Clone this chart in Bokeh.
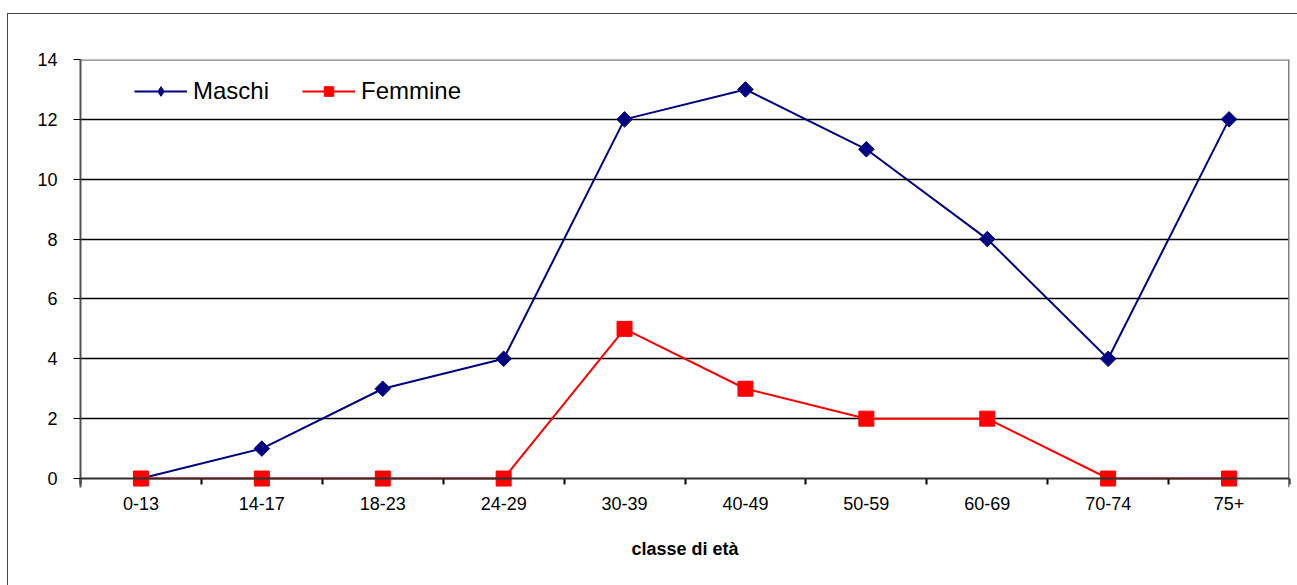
import math
from bokeh.plotting import figure
from bokeh.models import FixedTicker, Range1d, Legend, LegendItem, Span
from bokeh.embed import file_html
from bokeh.resources import INLINE

categories = ["0-13", "14-17", "18-23", "24-29", "30-39", "40-49", "50-59", "60-69", "70-74", "75+"]
maschi = [0, 1, 3, 4, 12, 13, 11, 8, 4, 12]
femmine = [0, 0, 0, 0, 5, 3, 2, 2, 0, 0]
y_ticks = [0, 2, 4, 6, 8, 10, 12, 14]

xs = [i + 0.5 for i in range(len(categories))]

FONT = "Liberation Sans"

p = figure(width=1290, height=572, output_backend="svg", toolbar_location=None,
           x_range=Range1d(0, len(categories)), y_range=Range1d(-0.3, 14),
           min_border_left=72, min_border_top=45, min_border_right=9, min_border_bottom=99,
           styles={"border-top": "1px solid #444", "border-left": "1px solid #444",
                   "margin-top": "13px", "margin-left": "7px"})

p.background_fill_color = "white"
p.border_fill_color = "white"
p.outline_line_color = None

# grid
p.xgrid.visible = False
p.ygrid.ticker = FixedTicker(ticks=y_ticks[1:-1])
p.ygrid.grid_line_color = "black"
p.ygrid.grid_line_width = 1.5

# plot-area border (top and right) and category axis line at zero
p.add_layout(Span(location=14, dimension="width", line_color="#808080", line_width=2.5))
p.add_layout(Span(location=len(categories), dimension="height", line_color="#808080", line_width=3))
p.add_layout(Span(location=0, dimension="width", line_color="#303030", line_width=2))

# x axis (sits at the frame bottom, just below zero)
p.xaxis.ticker = FixedTicker(ticks=xs, minor_ticks=list(range(len(categories) + 1)))
p.xaxis.major_label_overrides = {x: c for x, c in zip(xs, categories)}
p.xaxis.major_tick_out = 0
p.xaxis.major_tick_in = 0
p.xaxis.minor_tick_out = -3
p.xaxis.minor_tick_in = 9
p.xaxis.minor_tick_line_color = "black"
p.xaxis.minor_tick_line_width = 2
p.xaxis.axis_line_color = None
p.xaxis.major_label_text_font = FONT
p.xaxis.major_label_text_font_size = "18px"
p.xaxis.major_label_text_color = "black"
p.xaxis.major_label_standoff = 9
p.xaxis.axis_label = "classe di età"
p.xaxis.axis_label_text_font = FONT
p.xaxis.axis_label_text_font_size = "18px"
p.xaxis.axis_label_text_font_style = "bold"
p.xaxis.axis_label_text_color = "black"
p.xaxis.axis_label_standoff = 26

# y axis
p.yaxis.ticker = FixedTicker(ticks=y_ticks)
p.yaxis.major_tick_out = 7
p.yaxis.major_tick_in = 0
p.yaxis.major_tick_line_color = "black"
p.yaxis.minor_tick_line_color = None
p.yaxis.axis_line_color = "#505050"
p.yaxis.axis_line_width = 2
p.yaxis.major_label_text_font = FONT
p.yaxis.major_label_text_font_size = "18px"
p.yaxis.major_label_text_color = "black"
p.yaxis.major_label_standoff = 16

# series
lm = p.line(xs, maschi, line_color="#000080", line_width=2)
sm = p.scatter(xs, maschi, marker="square", angle=math.pi / 4, size=11,
               fill_color="#000080", line_color="#000080")
lf = p.line(xs, femmine, line_color="#FF0000", line_width=2)
sf = p.scatter(xs, femmine, marker="square", size=15, fill_color="#FF0000", line_color="#FF0000")

# legend-only diamond glyph, placed outside the visible range
legend_diamond = p.scatter(x=[-100], y=[-100], marker="diamond", size=15,
                           fill_color="#000080", line_color="#000080")

legend = Legend(items=[LegendItem(label="Maschi", renderers=[lm, legend_diamond]),
                       LegendItem(label="Femmine", renderers=[lf, sf])],
                orientation="horizontal", location=(54, 382))
legend.border_line_color = None
legend.background_fill_alpha = 0
legend.label_text_font = FONT
legend.label_text_font_size = "24px"
legend.label_text_color = "black"
legend.glyph_width = 53
legend.glyph_height = 24
legend.label_height = 24
legend.spacing = 33
legend.label_standoff = 6
legend.padding = 0
legend.margin = 0
p.add_layout(legend)

open("out.html", "w").write(file_html(p, INLINE))
